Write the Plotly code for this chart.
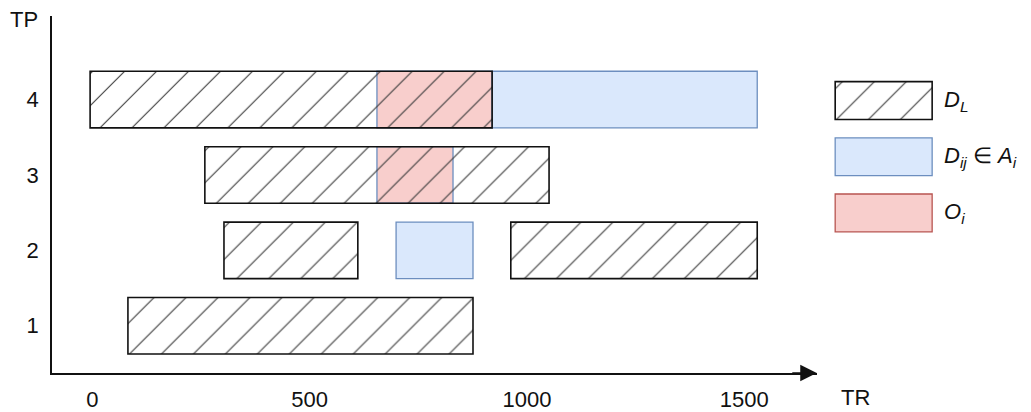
import plotly.graph_objects as go

# TR intervals per TP row
dl_tp = [4, 3, 2, 2, 1]
dl_start = [-5, 259, 303, 963, 82]
dl_end = [920, 1051, 611, 1530, 876]

a_tp = [4, 2]
a_start = [920, 699]
a_end = [1530, 876]

o_tp = [4, 3]
o_start = [655, 655]
o_end = [920, 830]

x_ticks = [0, 500, 1000, 1500]
y_ticks = [1, 2, 3, 4]

legend_labels = ["<i>D<sub>L</sub></i>", "<i>D<sub>ij</sub></i> \u2208 <i>A<sub>i</sub></i>", "<i>O<sub>i</sub></i>"]
legend_rows = [3, 2, 1]

BLUE_FILL, BLUE_LINE = "#dae8fc", "#6c8ebf"
RED_FILL, RED_LINE = "#f8cecc", "#b85450"
FONT = "Liberation Sans, Arial, sans-serif"

hatch = dict(shape="/", fgcolor="#3c3c3c", bgcolor="rgba(0,0,0,0)",
             size=22.6, solidity=0.05, fillmode="replace")


def lengths(s, e):
    return [b - a for a, b in zip(s, e)]


fig = go.Figure()
fig.add_trace(go.Bar(y=a_tp, x=lengths(a_start, a_end), base=a_start, orientation="h", width=0.75,
                     marker=dict(color=BLUE_FILL, line=dict(color=BLUE_LINE, width=1.3))))
fig.add_trace(go.Bar(y=o_tp, x=lengths(o_start, o_end), base=o_start, orientation="h", width=0.75,
                     marker=dict(color=RED_FILL, line=dict(color=BLUE_LINE, width=1.3))))
fig.add_trace(go.Bar(y=dl_tp, x=lengths(dl_start, dl_end), base=dl_start, orientation="h", width=0.75,
                     marker=dict(color="rgba(0,0,0,0)", pattern=hatch, line=dict(color="#111", width=1.6))))

# legend swatches in their own small axes
fig.add_trace(go.Bar(y=[legend_rows[0]], x=[1], base=[0], orientation="h", width=0.673, xaxis="x2", yaxis="y2",
                     marker=dict(color="rgba(0,0,0,0)", pattern=hatch, line=dict(color="#111", width=1.6))))
fig.add_trace(go.Bar(y=[legend_rows[1]], x=[1], base=[0], orientation="h", width=0.673, xaxis="x2", yaxis="y2",
                     marker=dict(color=BLUE_FILL, line=dict(color=BLUE_LINE, width=1.3))))
fig.add_trace(go.Bar(y=[legend_rows[2]], x=[1], base=[0], orientation="h", width=0.673, xaxis="x2", yaxis="y2",
                     marker=dict(color=RED_FILL, line=dict(color=RED_LINE, width=1.3))))

annotations = [
    dict(text="TP", xref="paper", yref="paper", x=-0.0286, y=0.989, xanchor="center", yanchor="middle",
         showarrow=False, font=dict(size=22, color="#111", family=FONT)),
    dict(text="TR", xref="paper", yref="paper", x=0.8212, y=-0.0696, xanchor="center", yanchor="middle",
         showarrow=False, font=dict(size=22, color="#111", family=FONT)),
    dict(text="", xref="x", yref="paper", x=1667, y=0, ax=-26, ay=0, showarrow=True,
         arrowhead=2, arrowsize=2.2, arrowwidth=1.5, arrowcolor="#111", standoff=0),
]
for lab, r in zip(legend_labels, legend_rows):
    annotations.append(dict(text=lab, xref="paper", yref="y2", x=0.909, y=r, xanchor="left", yanchor="middle",
                            showarrow=False, font=dict(size=22, color="#111", family=FONT)))

fig.update_layout(
    width=1031, height=412,
    margin=dict(l=52, r=0, t=16, b=37),
    paper_bgcolor="white", plot_bgcolor="white",
    barmode="overlay", showlegend=False,
    font=dict(family=FONT, size=22, color="#111"),
    xaxis=dict(domain=[0, 0.7814], range=[-92.7, 1667.5], tickvals=x_ticks, showgrid=False,
               zeroline=False, showline=True, linecolor="#111", linewidth=1.5, ticks="",
               ticklabelstandoff=6),
    yaxis=dict(domain=[0, 1], range=[0.3736, 5.108], tickvals=y_ticks, showgrid=False,
               zeroline=False, showline=True, linecolor="#111", linewidth=1.5, ticks="",
               ticklabelstandoff=7),
    xaxis2=dict(domain=[0.797, 0.902], range=[-0.03, 1.03], anchor="y2", visible=False),
    yaxis2=dict(domain=[0.3482, 0.8774], range=[0.363, 3.726], anchor="x2", visible=False),
    annotations=annotations,
)

# page body has a default 8px margin; drop it so the figure sits at the window corner
fig.write_html("out.html", config={"displayModeBar": False},
               post_script="document.body.style.margin='0';")
